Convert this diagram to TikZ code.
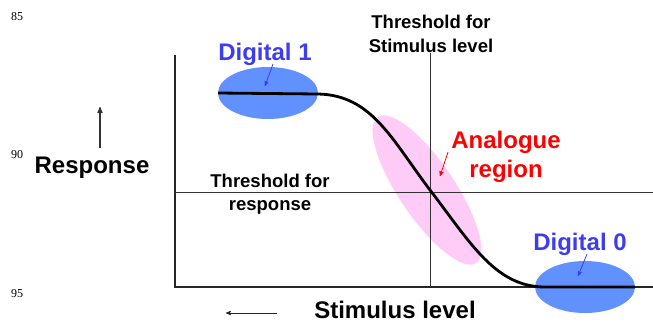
\documentclass[tikz,border=0pt]{standalone}
\usepackage{fontspec}
\setmainfont{Liberation Sans}
\newfontfamily\numfont{Liberation Serif}
\usetikzlibrary{arrows,shapes.geometric}

\definecolor{blobblue}{RGB}{97,144,255}
\definecolor{digblue}{RGB}{61,61,240}
\definecolor{blobpink}{RGB}{255,204,248}

\begin{document}
\begin{tikzpicture}[x=1pt,y=-1pt,>=stealth',
    bigtext/.style={font=\fontsize{24}{26}\selectfont\bfseries,anchor=base},
    thrtext/.style={font=\fontsize{18.5}{22}\selectfont\bfseries,anchor=base},
    numtext/.style={font=\numfont\fontsize{12}{14}\selectfont,anchor=base},
    blob/.style={ellipse,fill=blobblue,minimum width=100pt,minimum height=52pt,inner sep=0pt},
    pointer/.style={->,line width=0.8pt,shorten >=0pt},
    axis/.style={line width=1.2pt,black!85}]

  \useasboundingbox (0,0) rectangle (653,322);

  % shaded regions
  \node[ellipse,fill=blobpink,minimum width=176pt,minimum height=56pt,
        inner sep=0pt,rotate=-56] (analog) at (427,190) {};
  \node[blob] (dig1) at (268,93) {};
  \node[blob] (dig0) at (585,287) {};

  % axes and thresholds
  \coordinate (top) at (175,55);
  \coordinate (origin) at (175,287);
  \coordinate (right) at (653,287);
  \draw[axis] (top) -- (origin) -- (right);
  \draw[black!80] (175,192) -- (653,192);
  \draw[black!80] (430,53) -- (430,287);

  % response curve
  \draw[line width=2.8pt] (218,93) -- (318,94)
        .. controls (372,95) and (392,140) .. (430,190)
        .. controls (470,242) and (495,287) .. (545,287) -- (635,287);

  % labels
  \node[numtext] (n85) at (17,20) {85};
  \node[numtext] (n90) at (17,158) {90};
  \node[numtext] (n95) at (17,297) {95};

  \node[bigtext] (resp) at (92,173) {Response};
  \node[bigtext] (stim) at (395,318) {Stimulus level};
  \node[thrtext] (thrs1) at (431,28) {Threshold for};
  \node[thrtext] (thrs2) at (431,52) {Stimulus level};
  \node[thrtext] (thrr1) at (270,187) {Threshold for};
  \node[thrtext] (thrr2) at (270,210) {response};

  \node[bigtext,digblue] (lbl1) at (265,60) {Digital 1};
  \node[bigtext,digblue] (lbl0) at (580,250) {Digital 0};
  \node[bigtext,red] (lblan1) at (506,148) {Analogue};
  \node[bigtext,red] (lblan2) at (506,177) {region};

  % pointers
  \coordinate (d1tip) at (265,86);
  \coordinate (d0tip) at (578,276);
  \coordinate (antip) at (440,176);
  \draw[pointer,digblue] (273,64) -- (d1tip);
  \draw[pointer,digblue] (587,254) -- (d0tip);
  \draw[pointer,red] (448,152) -- (antip);

  \draw[->,line width=1.2pt,black!80] (100,148) -- (100,107);
  \draw[->,line width=0.8pt,black!85] (277,313) -- (226,313);

\end{tikzpicture}
\end{document}
